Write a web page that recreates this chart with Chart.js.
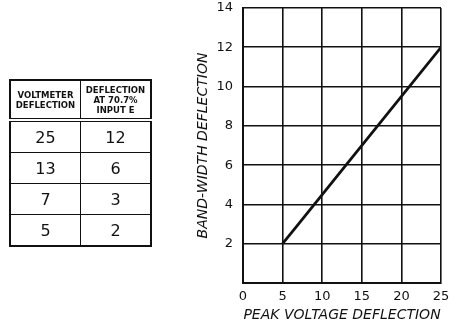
<!DOCTYPE html>
<html>
<head>
<meta charset="utf-8">
<script src="https://cdn.jsdelivr.net/npm/chart.js@4/dist/chart.umd.min.js"></script>
<style>
  html, body { margin: 0; padding: 0; background: #fff; }
  #wrap { position: relative; width: 456px; height: 324px; overflow: hidden; }
  #chart { position: absolute; left: 0; top: 0; }
  #tbl {
    position: absolute; left: 9px; top: 79px;
    border-collapse: collapse; border: 2px solid #111;
    font-family: "DejaVu Sans", sans-serif; color: #111;
  }
  #tbl th {
    width: 69px; height: 37px; border: 1.5px solid #111;
    border-bottom: 4px double #111;
    font-size: 8.5px; font-weight: bold; line-height: 10px; padding: 0;
  }
  #tbl td {
    height: 30px; border: 1.5px solid #111; text-align: center;
    font-size: 16px; padding: 0;
  }
</style>
</head>
<body>
<div id="wrap">
  <canvas id="chart" width="456" height="324"></canvas>
  <table id="tbl"><thead><tr id="hdr"></tr></thead><tbody id="rows"></tbody></table>
</div>
<script>
// Voltmeter readings and the matching deflection at 70.7% input
const tableHeaders = [["VOLTMETER", "DEFLECTION"], ["DEFLECTION", "AT 70.7%", "INPUT E"]];
const voltmeterDeflection = [25, 13, 7, 5];
const bandwidthDeflection = [12, 6, 3, 2];
const xTicks = [0, 5, 10, 15, 20, 25];
const yTicks = [2, 4, 6, 8, 10, 12, 14];

// Build the lookup table
const hdr = document.getElementById('hdr');
tableHeaders.forEach(lines => {
  const th = document.createElement('th');
  th.innerHTML = lines.join('<br>');
  hdr.appendChild(th);
});
const rows = document.getElementById('rows');
voltmeterDeflection.forEach((v, i) => {
  const tr = document.createElement('tr');
  [v, bandwidthDeflection[i]].forEach(n => {
    const td = document.createElement('td');
    td.textContent = n;
    tr.appendChild(td);
  });
  rows.appendChild(tr);
});

// Chart points ordered by peak voltage deflection
const points = voltmeterDeflection
  .map((v, i) => ({ x: v, y: bandwidthDeflection[i] }))
  .sort((a, b) => a.x - b.x);

const ink = '#111';
new Chart(document.getElementById('chart'), {
  type: 'scatter',
  data: {
    datasets: [{
      data: points,
      showLine: true,
      borderColor: ink,
      borderWidth: 2.8,
      pointRadius: 0,
      tension: 0
    }]
  },
  options: {
    responsive: false,
    animation: false,
    layout: { padding: { left: 195, right: 15, top: 8, bottom: 0 } },
    plugins: { legend: { display: false }, tooltip: { enabled: false } },
    scales: {
      x: {
        type: 'linear', min: 0, max: 25,
        afterBuildTicks: s => { s.ticks = xTicks.map(v => ({ value: v })); },
        afterFit: s => { s.height = 41; s.paddingLeft = 0; s.paddingRight = 0; },
        grid: { color: ink, lineWidth: 1.6, drawTicks: false },
        border: { color: ink, width: 2 },
        ticks: { color: ink, padding: 6, font: { family: 'DejaVu Sans', size: 13 } },
        title: {
          display: true, text: 'PEAK VOLTAGE DEFLECTION', color: ink,
          padding: { top: 0, bottom: 0 },
          font: { family: 'DejaVu Sans', size: 14, style: 'italic' }
        }
      },
      y: {
        type: 'linear', min: 0, max: 14,
        afterBuildTicks: s => { s.ticks = [0].concat(yTicks).map(v => ({ value: v })); },
        afterFit: s => { s.width = 48; s.paddingTop = 0; s.paddingBottom = 0; },
        grid: { color: ink, lineWidth: 1.6, drawTicks: false },
        border: { color: ink, width: 2 },
        ticks: {
          color: ink, padding: 10,
          font: { family: 'DejaVu Sans', size: 13 },
          callback: v => (v === 0 ? '' : v)
        },
        title: {
          display: true, text: 'BAND-WIDTH DEFLECTION', color: ink,
          padding: { top: 0, bottom: 2 },
          font: { family: 'DejaVu Sans', size: 14, style: 'italic' }
        }
      }
    }
  }
});
</script>
</body>
</html>
